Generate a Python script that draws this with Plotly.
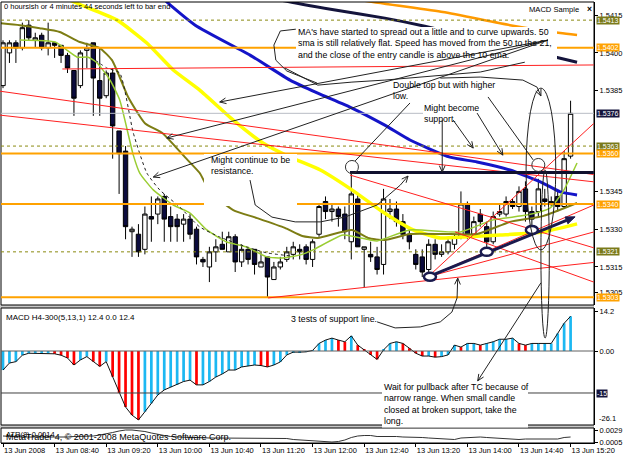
import math
import plotly.graph_objects as go

# ---------------- data (5-minute bars, 13 Jun 2008 08:00 - 15:20) ----------------
opens = [1.5387, 1.5400, 1.5404, 1.5402, 1.5411, 1.5405, 1.5407, 1.5402, 1.5404, 1.5403,
         1.5399, 1.5393, 1.5387, 1.5401, 1.5404, 1.5389, 1.5383, 1.5392, 1.5369, 1.5361,
         1.5329, 1.5328, 1.5322, 1.5335, 1.5336, 1.5343, 1.5335, 1.5334, 1.5332, 1.5334,
         1.5330, 1.5318, 1.5315, 1.5321, 1.5324, 1.5321, 1.5327, 1.5317, 1.5322, 1.5322,
         1.5315, 1.5319, 1.5310, 1.5315, 1.5318, 1.5320, 1.5322, 1.5323, 1.5318, 1.5328,
         1.5341, 1.5337, 1.5338, 1.5336, 1.5325, 1.5342, 1.5322, 1.5320, 1.5319, 1.5316,
         1.5337, 1.5338, 1.5333, 1.5328, 1.5320, 1.5319, 1.5314, 1.5324, 1.5320, 1.5321,
         1.5324, 1.5327, 1.5340, 1.5328, 1.5336, 1.5331, 1.5325, 1.5336, 1.5336, 1.5341,
         1.5339, 1.5346, 1.5337, 1.5337, 1.5342, 1.5340, 1.5343, 1.5339, 1.5359]
highs = [1.5405, 1.5405, 1.5405, 1.5412, 1.5413, 1.5408, 1.5408, 1.5412, 1.5404, 1.5403,
         1.5400, 1.5393, 1.5401, 1.5404, 1.5404, 1.5402, 1.5393, 1.5394, 1.5369, 1.5363,
         1.5331, 1.5332, 1.5339, 1.5343, 1.5343, 1.5344, 1.5339, 1.5336, 1.5336, 1.5336,
         1.5331, 1.5319, 1.5323, 1.5326, 1.5329, 1.5329, 1.5328, 1.5324, 1.5323, 1.5322,
         1.5321, 1.5319, 1.5317, 1.5319, 1.5323, 1.5325, 1.5324, 1.5324, 1.5326, 1.5340,
         1.5343, 1.5340, 1.5339, 1.5339, 1.5353, 1.5344, 1.5323, 1.5325, 1.5323, 1.5346,
         1.5342, 1.5341, 1.5336, 1.5330, 1.5322, 1.5322, 1.5326, 1.5326, 1.5324, 1.5326,
         1.5328, 1.5345, 1.5341, 1.5335, 1.5338, 1.5333, 1.5337, 1.5340, 1.5343, 1.5342,
         1.5347, 1.5349, 1.5339, 1.5350, 1.5346, 1.5343, 1.5345, 1.5361, 1.5381]
lows = [1.5386, 1.5396, 1.5396, 1.5401, 1.5405, 1.5402, 1.5401, 1.5399, 1.5398, 1.5396,
        1.5392, 1.5375, 1.5386, 1.5394, 1.5375, 1.5375, 1.5382, 1.5358, 1.5344, 1.5326,
        1.5319, 1.5319, 1.5320, 1.5325, 1.5332, 1.5325, 1.5325, 1.5325, 1.5325, 1.5326,
        1.5316, 1.5315, 1.5309, 1.5317, 1.5322, 1.5321, 1.5313, 1.5315, 1.5316, 1.5312,
        1.5315, 1.5303, 1.5310, 1.5314, 1.5317, 1.5318, 1.5318, 1.5316, 1.5315, 1.5327,
        1.5334, 1.5333, 1.5331, 1.5326, 1.5318, 1.5323, 1.5307, 1.5317, 1.5312, 1.5312,
        1.5334, 1.5331, 1.5326, 1.5322, 1.5314, 1.5311, 1.5311, 1.5318, 1.5319, 1.5320,
        1.5322, 1.5326, 1.5326, 1.5327, 1.5331, 1.5321, 1.5324, 1.5335, 1.5335, 1.5338,
        1.5337, 1.5333, 1.5330, 1.5335, 1.5339, 1.5339, 1.5337, 1.5338, 1.5358]
closes = [1.5404, 1.5404, 1.5402, 1.5410, 1.5406, 1.5406, 1.5402, 1.5404, 1.5403, 1.5399,
          1.5394, 1.5382, 1.5400, 1.5402, 1.5390, 1.5382, 1.5392, 1.5371, 1.5360, 1.5331,
          1.5330, 1.5321, 1.5336, 1.5334, 1.5342, 1.5334, 1.5331, 1.5331, 1.5334, 1.5328,
          1.5319, 1.5317, 1.5321, 1.5323, 1.5322, 1.5327, 1.5317, 1.5322, 1.5318, 1.5316,
          1.5317, 1.5311, 1.5315, 1.5317, 1.5321, 1.5323, 1.5321, 1.5318, 1.5325, 1.5339,
          1.5337, 1.5338, 1.5335, 1.5329, 1.5344, 1.5323, 1.5323, 1.5319, 1.5314, 1.5342,
          1.5338, 1.5333, 1.5328, 1.5325, 1.5316, 1.5313, 1.5324, 1.5320, 1.5321, 1.5325,
          1.5327, 1.5340, 1.5327, 1.5333, 1.5333, 1.5325, 1.5335, 1.5337, 1.5341, 1.5339,
          1.5345, 1.5337, 1.5334, 1.5346, 1.5341, 1.5341, 1.5339, 1.5358, 1.5376]

tick_bars = [0, 8, 16, 24, 32, 40, 48, 56, 64, 72, 80, 88]
tick_labels = ["13 Jun 2008", "13 Jun 08:40", "13 Jun 09:20", "13 Jun 10:00", "13 Jun 10:40",
               "13 Jun 11:20", "13 Jun 12:00", "13 Jun 12:40", "13 Jun 13:20", "13 Jun 14:00",
               "13 Jun 14:40", "13 Jun 15:20"]
price_ticks = [1.5415, 1.5400, 1.5385, 1.5345, 1.5330, 1.5315, 1.5305]

macd_values = [-6.8, -4.3, -3.8, -1.5, -0.8, -0.8, -0.8, -0.8, -1.0, -1.5,
               -2.5, -5.0, -3.2, -2.0, -3.8, -5.5, -3.8, -9.2, -15.0, -20.0,
               -22.9, -24.6, -21.7, -18.7, -15.7, -13.9, -12.9, -12.1, -10.9, -10.4,
               -12.1, -12.1, -10.9, -9.3, -8.2, -6.8, -6.8, -5.7, -5.4, -5.0,
               -5.2, -5.7, -5.0, -3.9, -1.4, -0.4, -0.4, -0.3, 0.2, 2.7,
               3.9, 4.6, 3.9, 3.3, 5.4, 2.1, 0.4, -1.4, -3.0, 0.4,
               2.7, 3.3, 2.7, 1.0, -0.8, -1.8, -1.8, -2.2, -2.0, -1.4,
               2.1, 1.4, 2.7, 2.7, 2.1, 2.7, 3.3, 4.2, 4.2, 4.6,
               2.7, 2.1, 2.7, 2.7, 2.7, 2.7, 6.3, 9.9, 12.4]
atr_values = [0.0017, 0.0017, 0.0016, 0.0015, 0.0015, 0.0015, 0.0015, 0.0015, 0.0014, 0.0014,
              0.0015, 0.0016, 0.0016, 0.0016, 0.0017, 0.0019, 0.0021, 0.0024, 0.0027, 0.0029,
              0.0029, 0.0028, 0.0026, 0.0023, 0.0020, 0.0018, 0.0016, 0.0015, 0.0015, 0.0014,
              0.0014, 0.0013, 0.0013, 0.0013, 0.0013, 0.0013, 0.0013, 0.0013, 0.0013, 0.0013,
              0.0012, 0.0013, 0.0013, 0.0012, 0.0012, 0.0010, 0.0009, 0.0008, 0.0007, 0.0006,
              0.0005, 0.0005, 0.0006, 0.0009, 0.0014, 0.0017, 0.0018, 0.0018, 0.0016, 0.0016,
              0.0017, 0.0016, 0.0015, 0.0015, 0.0015, 0.0014, 0.0013, 0.0012, 0.0011, 0.0010,
              0.0010, 0.0013, 0.0014, 0.0015, 0.0015, 0.0014, 0.0013, 0.0012, 0.0011, 0.0010,
              0.0010, 0.0011, 0.0011, 0.0011, 0.0011, 0.0011, 0.0011, 0.0014, 0.0015]

# moving averages sampled off the chart: (bar position, price)
yellow_bar = [5.0, 10.4, 17.7, 22.3, 26.4, 30.5, 35.7, 40.3, 44.5, 49.2, 54.1, 58.9, 63.6, 67.8, 71.3, 77.1, 83.7, 89.0]
yellow_val = [1.5432, 1.54210, 1.54130, 1.54039, 1.53932, 1.53852, 1.53733, 1.53642, 1.53586, 1.53535,
              1.53456, 1.53368, 1.53297, 1.53265, 1.53269, 1.53277, 1.53289, 1.53321]
blue_bar = [22.8, 25.1, 29.8, 38.3, 44.5, 48.8, 54.1, 59.2, 63.1, 69.3, 73.5, 78.6, 83.7, 86.4, 89.0]
blue_val = [1.5429, 1.54210, 1.54110, 1.53991, 1.53892, 1.53840, 1.53781, 1.53713, 1.53654, 1.53586,
            1.53567, 1.53535, 1.53483, 1.53448, 1.53436]
navy_bar = [35.2, 43.0, 51.5, 59.2, 65.4, 86.4, 89.0]
navy_val = [1.5426, 1.54210, 1.54170, 1.54138, 1.54106, 1.53979, 1.53963]
orange_bar = [50.7, 55.4, 68.2, 78.6, 86.4, 89.0]
orange_val = [1.54241, 1.54210, 1.54162, 1.54110, 1.54079, 1.54071]
olive_bar = [-0.5, 2.6, 5.7, 8.8, 11.9, 15.0, 16.9, 19.4, 22.0, 24.7, 28.2, 30.5, 32.1, 35.7, 39.4,
             43.7, 46.4, 48.8, 54.1, 56.6, 59.2, 63.1, 68.2, 73.5, 78.6, 83.7, 89.0]
olive_val = [1.54118, 1.54110, 1.54098, 1.54083, 1.54043, 1.54019, 1.53971, 1.53825, 1.53721, 1.53682,
             1.53586, 1.53523, 1.53448, 1.53376, 1.53344, 1.53305, 1.53273, 1.53265, 1.53297, 1.53265,
             1.53257, 1.53281, 1.53281, 1.53281, 1.53329, 1.53352, 1.53404]
green_bar = [2.6, 8.1, 9.9, 11.5, 13.2, 14.6, 16.6, 18.1, 20.2, 21.2, 23.3, 26.4, 29.0, 31.6, 34.7,
             37.8, 40.9, 43.4, 46.1, 48.1, 52.7, 56.9, 58.0, 63.1, 70.9, 76.0, 81.2, 84.8, 86.8, 89.0]
green_val = [1.54051, 1.54043, 1.54011, 1.53983, 1.53983, 1.53960, 1.53892, 1.53813, 1.53594, 1.53523,
             1.53456, 1.53396, 1.53364, 1.53297, 1.53249, 1.53229, 1.53190, 1.53186, 1.53198, 1.53218,
             1.53277, 1.53257, 1.53253, 1.53297, 1.53289, 1.53337, 1.53356, 1.53384, 1.53448, 1.53563]
dotted_bar = [14.3, 16.1, 18.1, 20.2, 22.3, 24.3, 27.4, 30.5, 33.6, 37.8, 40.9, 44.5]
dotted_val = [1.53971, 1.53940, 1.53920, 1.53682, 1.53523, 1.53456, 1.53388, 1.53309, 1.53269, 1.53229,
              1.53206, 1.53194]

orange_levels = [1.5402, 1.5360, 1.5340, 1.5303]
olive_levels = [1.5413, 1.5363, 1.5321]
bid_price = 1.5376
macd_level = -15

# drawn objects anchored in (bar, price)
red_lines = [(9.2, 1.53936, 91.6, 1.53952), (-0.5, 1.53848, 91.6, 1.53517), (-0.5, 1.53753, 91.6, 1.53488),
             (41.1, 1.53027, 91.6, 1.53168), (65.9, 1.53111, 91.6, 1.53720), (65.9, 1.53111, 91.6, 1.53396),
             (65.9, 1.53111, 91.6, 1.53289), (53.8, 1.53515, 91.6, 1.53226), (70.1, 1.53289, 91.6, 1.53090)]
resistance_line = (53.8, 91.6, 1.53525)
support_arrow = [(65.9, 1.53111), (88.7, 1.53349)]
support_touches = [(66.2, 1.53111), (75.0, 1.53210), (82.0, 1.53297)]
top_circles = [(54.1, 1.53547), (83.0, 1.53555)]
big_oval = (81.1, 85.7, 1.53218, 1.53860)
narrow_oval = (83.4, 84.7, 1.52868, 1.53535)
plain_lines = [
    [(63.1, 1.53801), (54.6, 1.53571)],
    [(75.2, 1.53825), (82.2, 1.53575)],
    [(45.4, 1.54094), (43.0, 1.54087), (42.0, 1.54031), (42.3, 1.53971), (44.0, 1.53928), (48.7, 1.53880)],
    [(43.7, 1.53940), (48.8, 1.53872), (54.1, 1.53884), (59.2, 1.53892), (74.0, 1.53924), (80.9, 1.53963)],
]
arrow_lines = [
    [(84.5, 1.54051), (33.6, 1.53805)],
    [(84.5, 1.54051), (25.4, 1.53662)],
    [(84.5, 1.54051), (23.3, 1.53507)],
    [(68.1, 1.53733), (68.1, 1.53527)],
    [(69.8, 1.53733), (72.9, 1.53622)],
    [(73.5, 1.53761), (77.5, 1.53594)],
    [(38.3, 1.53495), (39.1, 1.53396), (41.7, 1.53348), (45.3, 1.53329), (49.2, 1.53329), (53.0, 1.53348),
     (58.0, 1.53396), (61.6, 1.53475), (62.8, 1.53511)],
    [(67.8, 1.53900), (74.0, 1.53904), (80.6, 1.53892), (82.8, 1.53864), (83.4, 1.53829)],
    [(58.0, 1.52932), (60.8, 1.52908), (64.7, 1.52912), (67.8, 1.52932), (69.6, 1.52971), (70.4, 1.53027),
     (70.5, 1.53106)],
    [(83.4, 1.53087), (73.6, 1.52698)],
]

# ---------------- layout geometry ----------------
W, H = 625, 457
ML, MR, MT, MB = 1, 31, 2, 14
PW, PH = W - ML - MR, H - MT - MB
X_RANGE = [-0.31, 91.63]
MAIN_PX, MACD_PX, ATR_PX = (2, 305), (308, 425), (428, 443)
MAIN_RANGE = [1.52999, 1.54202]
MACD_RANGE = [-26.43, 15.36]
ATR_RANGE = [0.0003, 0.0033]


def dom(px):
    return [(MT + PH - px[1]) / PH, (MT + PH - px[0]) / PH]


def bx(b):
    return ML + (b - X_RANGE[0]) / (X_RANGE[1] - X_RANGE[0]) * PW


def py(p):
    return MAIN_PX[1] - (p - MAIN_RANGE[0]) / (MAIN_RANGE[1] - MAIN_RANGE[0]) * (MAIN_PX[1] - MAIN_PX[0])


def paper(x, y):
    return ((x - ML) / PW, (MT + PH - y) / PH)


def path_of(px_pts, close=False):
    pts = [paper(x, y) for x, y in px_pts]
    s = "M " + " L ".join(f"{a:.5f},{b:.5f}" for a, b in pts)
    return s + (" Z" if close else "")


def head_px(tail, tip, length=6.0, spread=0.45):
    ang = math.atan2(tip[1] - tail[1], tip[0] - tail[0])
    a1 = (tip[0] - length * math.cos(ang - spread), tip[1] - length * math.sin(ang - spread))
    a2 = (tip[0] - length * math.cos(ang + spread), tip[1] - length * math.sin(ang + spread))
    return a1, a2


shapes = []


def add_path(px_pts, color, width, close=False, fill=None, dash=None):
    d = dict(type="path", xref="paper", yref="paper", path=path_of(px_pts, close), layer="above",
             line=dict(color=color, width=width))
    if dash:
        d["line"]["dash"] = dash
    if fill:
        d["fillcolor"] = fill
    shapes.append(d)


def add_rect_px(x0, y0, x1, y1, fill, line_color=None, width=0):
    p0, p1 = paper(x0, y1), paper(x1, y0)
    shapes.append(dict(type="rect", xref="paper", yref="paper", x0=p0[0], y0=p0[1], x1=p1[0], y1=p1[1],
                       fillcolor=fill, line=dict(color=line_color or fill, width=width), layer="above"))


def add_ellipse_px(cx, cy, rx, ry, color, width, fill=None):
    p0, p1 = paper(cx - rx, cy + ry), paper(cx + rx, cy - ry)
    d = dict(type="circle", xref="paper", yref="paper", x0=p0[0], y0=p0[1], x1=p1[0], y1=p1[1],
             line=dict(color=color, width=width), layer="above")
    if fill:
        d["fillcolor"] = fill
    shapes.append(d)


# panel separators and frames
add_rect_px(0, MAIN_PX[1], W - MR, MACD_PX[0], "#c8c8c8")
add_rect_px(0, MACD_PX[1], W - MR, ATR_PX[0], "#c8c8c8")
for top, bot in (MAIN_PX, MACD_PX, ATR_PX):
    p0, p1 = paper(ML, bot), paper(ML + PW, top)
    shapes.append(dict(type="rect", xref="paper", yref="paper", x0=p0[0], y0=p0[1], x1=p1[0], y1=p1[1],
                       line=dict(color="black", width=1), layer="above"))

# horizontal levels
for lv in orange_levels:
    add_path([(ML, py(lv)), (ML + PW, py(lv))], "#ffa200", 2)
for lv in olive_levels:
    add_path([(ML, py(lv)), (ML + PW, py(lv))], "#8a8a10", 1, dash="3px,3px")
add_path([(ML, py(bid_price)), (ML + PW, py(bid_price))], "#b8bcc4", 1)


def macd_px(v):
    return MACD_PX[1] - (v - MACD_RANGE[0]) / (MACD_RANGE[1] - MACD_RANGE[0]) * (MACD_PX[1] - MACD_PX[0])


add_path([(ML, macd_px(0)), (ML + PW, macd_px(0))], "#606060", 1)
add_path([(ML, macd_px(macd_level)), (ML + PW, macd_px(macd_level))], "#404040", 1)

# red trend lines
for b0, p0, b1, p1 in red_lines:
    add_path([(bx(b0), py(p0)), (bx(b1), py(p1))], "#ff2020", 1)

# white text backgrounds (they hide what lies under the pasted notes)
add_rect_px(296, 27, 557, 61, "white")
add_rect_px(204, 154, 297, 206, "white")
add_rect_px(423, 103, 528, 126, "white")
add_rect_px(382, 380, 528, 427.5, "white")

# resistance line and support arrow
b0, b1, lv = resistance_line
add_path([(bx(b0), py(lv)), (bx(b1), py(lv))], "#10102e", 3)
tail = (bx(support_arrow[0][0]), py(support_arrow[0][1]))
tip = (bx(support_arrow[1][0]), py(support_arrow[1][1]))
h1, h2 = head_px(tail, tip, length=10, spread=0.38)
mid = ((h1[0] + h2[0]) / 2, (h1[1] + h2[1]) / 2)
add_path([tail, mid], "#1a1a4e", 3)
add_path([tip, h1, h2], "#1a1a4e", 1, close=True, fill="#1a1a4e")
for b, p in support_touches:
    add_ellipse_px(bx(b), py(p), 6, 4, "#1a1a4e", 2.5, fill="white")
for b, p in top_circles:
    add_ellipse_px(bx(b), py(p), 6.5, 6.5, "#333333", 1)
for b0_, b1_, p0_, p1_ in (big_oval, narrow_oval):
    cx, cy = (bx(b0_) + bx(b1_)) / 2, (py(p0_) + py(p1_)) / 2
    add_ellipse_px(cx, cy, (bx(b1_) - bx(b0_)) / 2, (py(p0_) - py(p1_)) / 2, "#222222", 1)

for pts in plain_lines:
    add_path([(bx(b), py(p)) for b, p in pts], "#222222", 1)
for pts in arrow_lines:
    pp = [(bx(b), py(p)) for b, p in pts]
    add_path(pp, "#222222", 1)
    a1, a2 = head_px(pp[-2], pp[-1], length=7, spread=0.42)
    add_path([a1, pp[-1], a2], "#222222", 1)

# ---------------- traces ----------------
bars = list(range(len(opens)))
fig = go.Figure()
fig.add_trace(go.Candlestick(
    x=bars, open=opens, high=highs, low=lows, close=closes, xaxis="x", yaxis="y",
    increasing=dict(line=dict(color="black", width=1), fillcolor="white"),
    decreasing=dict(line=dict(color="black", width=1), fillcolor="#0b0b3d"),
    whiskerwidth=0, showlegend=False))

ma_specs = [(yellow_bar, yellow_val, "#ffff00", 3.5, None), (blue_bar, blue_val, "#1414c8", 3, None),
            (navy_bar, navy_val, "#14143c", 3, None), (orange_bar, orange_val, "#ff9a00", 2.5, None),
            (olive_bar, olive_val, "#7d7d14", 2, None), (green_bar, green_val, "#9acd32", 1.5, None),
            (dotted_bar, dotted_val, "#202020", 1, "dot")]
for xs, ys, col, wd, dash in ma_specs:
    fig.add_trace(go.Scatter(x=xs, y=ys, mode="lines", xaxis="x", yaxis="y", showlegend=False,
                             line=dict(color=col, width=wd, dash=dash, shape="spline", smoothing=0.5),
                             hoverinfo="skip"))

macd_colors = ["#1cb8f2" if i == 0 or v >= macd_values[i - 1] else "#ff0000" for i, v in enumerate(macd_values)]
fig.add_trace(go.Bar(x=bars, y=macd_values, width=0.42, marker=dict(color=macd_colors, line=dict(width=0)),
                     xaxis="x", yaxis="y2", showlegend=False))
fig.add_trace(go.Scatter(x=bars, y=macd_values, mode="lines", line=dict(color="#111111", width=1),
                         xaxis="x", yaxis="y2", showlegend=False))
fig.add_trace(go.Scatter(x=bars, y=atr_values, mode="lines", line=dict(color="#333333", width=1),
                         xaxis="x", yaxis="y3", showlegend=False))

# ---------------- annotations ----------------
FONT = "Arial"
anns = []


def text_px(x, yc, text, size, **kw):
    px, pyy = paper(x, yc - 0.65 * size)
    d = dict(xref="paper", yref="paper", x=px, y=pyy, xanchor="left", yanchor="top", align="left",
             text=text, showarrow=False, borderpad=0, font=dict(family=FONT, size=size, color="black"))
    d.update(kw)
    anns.append(d)


text_px(3, 6, "0 hoursish or 4 minutes 44 seconds left to bar end", 7.5)
text_px(528, 9, "MACD Sample", 7.6)
text_px(586, 9, "<b>×</b>", 8.5)
text_px(297, 32, "MA's have started to spread out a little and to curve upwards. 50<br>"
                 "sma is still relatively flat. Speed has moved from the 50 to the 21,<br>"
                 "and the close of the entry candle is above the 10 ema.", 8.8)
text_px(392, 85, "Double top but with higher<br>low.", 8.8)
text_px(423, 108, "Might become<br>support.", 8.8)
text_px(210, 160, "Might continue to be<br>resistance.", 8.8)
text_px(290, 319, "3 tests of support line.", 8.8)
text_px(383, 387, "Wait for pullback after TC because of<br>narrow range. When small candle<br>"
                  "closed at broken support, take the<br>long.", 8.8)
text_px(5, 317, "MACD H4-300(5,13,1) 12.4 0.0 12.4", 8)
text_px(5, 437, "MetaTrader 4, © 2001-2008 MetaQuotes Software Corp.", 9)
text_px(5, 434, "ATR(8) 0.0014", 7.5)


def value_box(val, yref, bg, fmt="{:.4f}"):
    anns.append(dict(xref="paper", x=1, xanchor="left", xshift=2, yref=yref, y=val, yanchor="middle",
                     text=fmt.format(val), showarrow=False, bgcolor=bg, borderpad=0,
                     font=dict(family=FONT, size=7, color="white")))


for lv in olive_levels:
    value_box(lv, "y", "#7a7a1a")
for lv in orange_levels:
    value_box(lv, "y", "#ffa200")
value_box(bid_price, "y", "#14143c")
value_box(macd_level, "y2", "#14143c", fmt="{:d}")
anns.append(dict(xref="paper", x=1, xanchor="left", xshift=4, yref="y2", y=MACD_RANGE[0] + 0.3,
                 yanchor="bottom", text="-26.1", showarrow=False, borderpad=0,
                 font=dict(family=FONT, size=7.5, color="black")))

axis_font = dict(family=FONT, size=7.5, color="black")
common_y = dict(side="right", anchor="x", showgrid=False, zeroline=False, showline=True, linecolor="black",
                linewidth=1, ticks="outside", ticklen=3, tickcolor="black", tickfont=axis_font, fixedrange=True)

fig.update_layout(
    width=W, height=H, margin=dict(l=ML, r=MR, t=MT, b=MB, autoexpand=False),
    paper_bgcolor="white", plot_bgcolor="white", showlegend=False,
    font=dict(family=FONT, size=8, color="black"),
    boxgap=0.32, boxgroupgap=0.0,
    xaxis=dict(domain=[0, 1], anchor="y3", range=X_RANGE, tickvals=tick_bars, ticktext=tick_labels,
               tickangle=0, ticklabelposition="outside right", ticks="outside", ticklen=3, tickcolor="black",
               showgrid=False, zeroline=False, showline=True, linecolor="black", tickfont=axis_font,
               rangeslider=dict(visible=False), fixedrange=True),
    yaxis=dict(domain=dom(MAIN_PX), range=MAIN_RANGE, tickvals=price_ticks,
               ticktext=[f"{v:.4f}" for v in price_ticks], **common_y),
    yaxis2=dict(domain=dom(MACD_PX), range=MACD_RANGE, tickvals=[14.2, 0.0], ticktext=["14.2", "0.00"], **common_y),
    yaxis3=dict(domain=dom(ATR_PX), range=ATR_RANGE, tickvals=[0.0029, 0.0005], ticktext=["0.0029", "0.0005"],
                **common_y),
    shapes=shapes, annotations=anns,
)

fig.write_html("out.html")
